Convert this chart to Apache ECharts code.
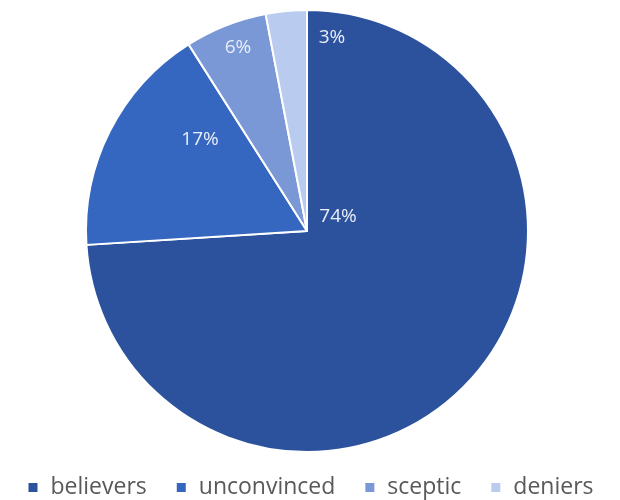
<!DOCTYPE html>
<html>
<head>
<meta charset="utf-8">
<script src="https://cdn.jsdelivr.net/npm/echarts@6/dist/echarts.min.js"></script>
<style>
  html, body { margin: 0; padding: 0; background: #fff; }
  #chart { width: 620px; height: 500px; }
</style>
</head>
<body>
<div id="chart"></div>
<script>
// Share of respondents per group
const categories = ['believers', 'unconvinced', 'sceptic', 'deniers'];
const shares = [74, 17, 6, 3];
const sliceColors = ['#2C529E', '#3567C0', '#7A97D6', '#B9CBEE'];

// Label anchor points, as offsets from the pie centre in pixels
const labelOffsets = [[31, -14], [-107, -91], [-69, -183], [25, -193]];

const cx = 307, cy = 231, radius = 221;

const chart = echarts.init(document.getElementById('chart'));
chart.setOption({
  animation: false,
  color: sliceColors,
  legend: {
    bottom: -4,
    left: 'center',
    itemWidth: 11,
    itemHeight: 11,
    itemGap: 28,
    icon: 'rect',
    textStyle: { fontFamily: 'Open Sans', fontSize: 23, color: '#595959', padding: [0, 0, 0, 7] },
    data: categories
  },
  series: [{
    type: 'pie',
    center: [cx, cy],
    radius: [0, radius],
    startAngle: 90,
    clockwise: true,
    data: categories.map((name, i) => ({ name, value: shares[i] })),
    itemStyle: { borderColor: '#ffffff', borderWidth: 2 },
    label: {
      show: true,
      position: 'inside',
      formatter: p => p.value + '%',
      fontFamily: 'Open Sans',
      fontSize: 19,
      color: '#E8EEF8'
    },
    labelLine: { show: false },
    labelLayout: params => {
      const o = labelOffsets[params.dataIndex];
      return { x: cx + o[0], y: cy + o[1], align: 'center', verticalAlign: 'middle' };
    }
  }]
});
</script>
</body>
</html>
